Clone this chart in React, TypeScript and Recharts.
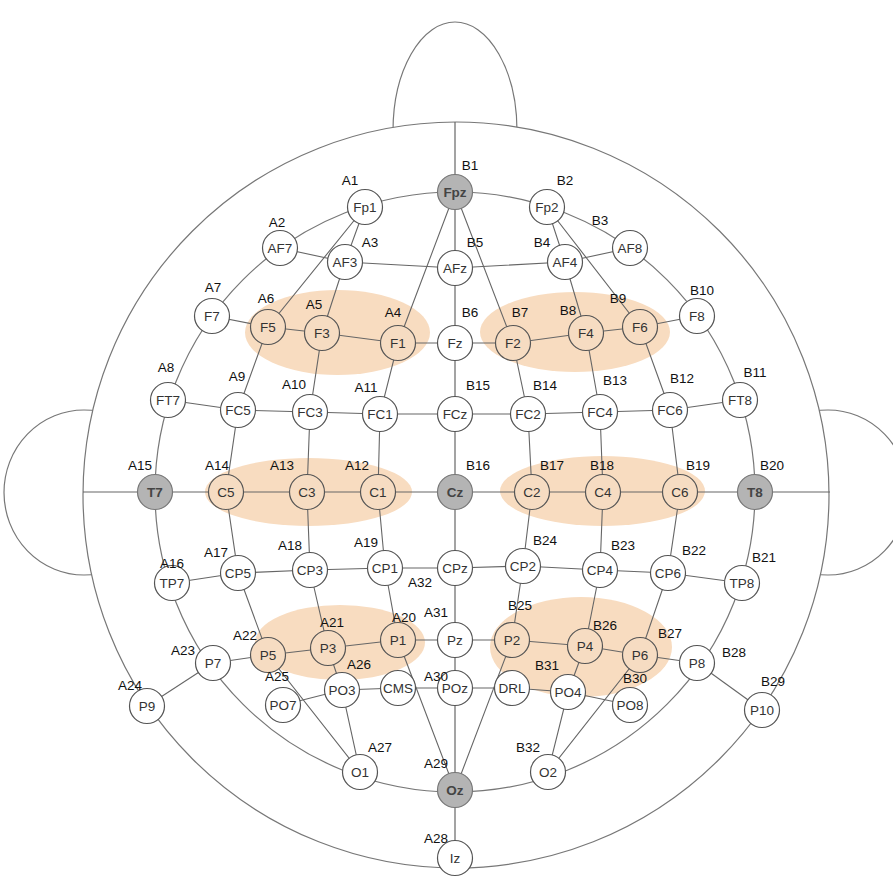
import { ScatterChart, Scatter, XAxis, YAxis, ReferenceArea } from "recharts";

type P = { n: string; x: number; y: number };
const e = (n: string, x: number, y: number): P => ({ n, x, y });

// electrode positions (px)
const electrodes: P[] = [
  e("Fp1", 365, 207), e("Fpz", 455, 192), e("Fp2", 547, 207),
  e("AF7", 280, 248), e("AF3", 345, 262), e("AFz", 455, 268), e("AF4", 565, 262), e("AF8", 630, 248),
  e("F7", 212, 316), e("F5", 268, 327), e("F3", 322, 333), e("F1", 398, 343), e("Fz", 455, 343),
  e("F2", 513, 343), e("F4", 586, 333), e("F6", 640, 327), e("F8", 697, 316),
  e("FT7", 168, 400), e("FC5", 238, 410), e("FC3", 310, 412), e("FC1", 380, 414), e("FCz", 455, 414),
  e("FC2", 528, 414), e("FC4", 600, 412), e("FC6", 670, 410), e("FT8", 740, 400),
  e("T7", 155, 492), e("C5", 226, 492), e("C3", 307, 492), e("C1", 378, 492), e("Cz", 455, 492),
  e("C2", 532, 492), e("C4", 603, 492), e("C6", 680, 492), e("T8", 755, 492),
  e("TP7", 172, 583), e("CP5", 238, 573), e("CP3", 310, 570), e("CP1", 385, 568), e("CPz", 455, 568),
  e("CP2", 523, 566), e("CP4", 600, 570), e("CP6", 668, 573), e("TP8", 742, 583),
  e("P9", 147, 706), e("P7", 213, 663), e("P5", 268, 655), e("P3", 328, 648), e("P1", 398, 640),
  e("Pz", 455, 640), e("P2", 512, 640), e("P4", 585, 646), e("P6", 640, 655), e("P8", 697, 663), e("P10", 762, 710),
  e("PO7", 283, 705), e("PO3", 342, 690), e("CMS", 398, 688), e("POz", 455, 688), e("DRL", 512, 688),
  e("PO4", 568, 692), e("PO8", 630, 705),
  e("O1", 360, 772), e("Oz", 455, 790), e("O2", 548, 772),
  e("Iz", 455, 858),
];

const reference = ["Fpz", "Cz", "Oz", "T7", "T8"];
const highlighted = ["F5", "F3", "F1", "F2", "F4", "F6", "C5", "C3", "C1", "C2", "C4", "C6", "P5", "P3", "P1", "P2", "P4", "P6"];

// channel labels
const channelLabels: P[] = [
  e("A1", 350, 180), e("A2", 277, 222), e("A3", 370, 242), e("A4", 393, 312), e("A5", 314, 304),
  e("A6", 266, 298), e("A7", 213, 287), e("A8", 166, 367), e("A9", 237, 376), e("A10", 294, 384),
  e("A11", 366, 387), e("A12", 357, 465), e("A13", 282, 465), e("A14", 217, 465), e("A15", 140, 465),
  e("A16", 172, 563), e("A17", 216, 552), e("A18", 290, 545), e("A19", 366, 542), e("A20", 404, 617),
  e("A21", 332, 622), e("A22", 245, 635), e("A23", 183, 650), e("A24", 130, 685), e("A25", 277, 676),
  e("A26", 359, 664), e("A27", 380, 747), e("A28", 436, 838), e("A29", 436, 763), e("A30", 436, 676),
  e("A31", 436, 612), e("A32", 420, 582),
  e("B1", 470, 165), e("B2", 565, 180), e("B3", 600, 220), e("B4", 542, 242), e("B5", 475, 242),
  e("B6", 470, 312), e("B7", 520, 312), e("B8", 568, 310), e("B9", 618, 298), e("B10", 702, 290),
  e("B11", 755, 372), e("B12", 682, 378), e("B13", 615, 380), e("B14", 545, 385), e("B15", 478, 385),
  e("B16", 478, 465), e("B17", 552, 465), e("B18", 602, 465), e("B19", 698, 465), e("B20", 772, 465),
  e("B21", 764, 557), e("B22", 694, 550), e("B23", 623, 545), e("B24", 545, 540), e("B25", 520, 605),
  e("B26", 605, 625), e("B27", 670, 633), e("B28", 734, 652), e("B29", 773, 681), e("B30", 635, 678),
  e("B31", 547, 665), e("B32", 528, 747),
];

// polylines connecting electrodes
const paths: string[][] = [
  ["AF7", "AF3", "AFz", "AF4", "AF8"],
  ["F7", "F5", "F3", "F1", "Fz", "F2", "F4", "F6", "F8"],
  ["FT7", "FC5", "FC3", "FC1", "FCz", "FC2", "FC4", "FC6", "FT8"],
  ["TP7", "CP5", "CP3", "CP1", "CPz", "CP2", "CP4", "CP6", "TP8"],
  ["P7", "P5", "P3", "P1", "Pz", "P2", "P4", "P6", "P8"],
  ["PO7", "PO3", "CMS", "POz", "DRL", "PO4", "PO8"],
  ["Fpz", "F1", "FC1", "C1", "CP1", "P1", "Oz"],
  ["Fpz", "F2", "FC2", "C2", "CP2", "P2", "Oz"],
  ["Fp1", "AF3", "F3", "FC3", "C3", "CP3", "P3", "PO3", "O1"],
  ["Fp2", "AF4", "F4", "FC4", "C4", "CP4", "P4", "PO4", "O2"],
  ["Fp1", "F5", "FC5", "C5", "CP5", "P5", "O1"],
  ["Fp2", "F6", "FC6", "C6", "CP6", "P6", "O2"],
  ["P9", "P7"],
  ["P8", "P10"],
];
const axisLines: P[][] = [
  [e("", 455, 122), e("", 455, 868)],
  [e("", 83, 492), e("", 830, 492)],
];

// [x1, x2, y1, y2]
const outlines: number[][] = [
  [393, 517, 22, 240],
  [4, 164, 410, 575],
  [748, 908, 410, 575],
  [83, 829, 122, 868],
  [155, 755, 192, 792],
];
const groups: number[][] = [
  [245, 430, 290, 375], [480, 670, 292, 372],
  [205, 412, 458, 526], [500, 705, 456, 526],
  [255, 425, 605, 680], [490, 672, 597, 697],
];

const byName = (n: string) => electrodes.find((p) => p.n === n)!;
const STROKE = "#666";
const FONT = "Liberation Sans, Arial, sans-serif";

const Ellipse = ({ fill, stroke }: { fill: string; stroke: string }) => (props: any) => (
  <ellipse
    cx={props.x + props.width / 2}
    cy={props.y + props.height / 2}
    rx={Math.abs(props.width) / 2}
    ry={Math.abs(props.height) / 2}
    fill={fill}
    stroke={stroke}
    strokeWidth={1.2}
  />
);

const Electrode = (props: any) => {
  const { cx, cy, payload } = props;
  const isRef = reference.includes(payload.n);
  const isHi = highlighted.includes(payload.n);
  return (
    <g>
      <circle cx={cx} cy={cy} r={17.5} fill={isRef ? "#b4b4b4" : isHi ? "#f6dcc2" : "#fff"} stroke={isRef ? "#777" : "#555"} strokeWidth={1.2} />
      <text x={cx} y={cy + 5} textAnchor="middle" fontSize={13.5} fontFamily={FONT} fontWeight={isRef ? 700 : 400} fill={isRef ? "#444" : "#333"}>
        {payload.n}
      </text>
    </g>
  );
};

const ChannelLabel = (props: any) => (
  <text x={props.cx} y={props.cy + 5} textAnchor="middle" fontSize={13.5} fontFamily={FONT} fill="#111">
    {props.payload.n}
  </text>
);

const Nothing = () => <g />;

export default function App() {
  return (
    <div style={{ position: "absolute", left: 0, top: 0, width: 893, height: 884, background: "#fff" }}>
      <ScatterChart width={893} height={884} margin={{ top: 0, right: 0, bottom: 0, left: 0 }}>
        <XAxis type="number" dataKey="x" domain={[0, 893]} hide />
        <YAxis type="number" dataKey="y" domain={[0, 884]} reversed hide />
        {outlines.map((o, i) => (
          <ReferenceArea key={"o" + i} x1={o[0]} x2={o[1]} y1={o[2]} y2={o[3]} ifOverflow="visible"
            shape={Ellipse({ fill: i < 4 ? "#fff" : "none", stroke: "#777" })} />
        ))}
        {groups.map((g, i) => (
          <ReferenceArea key={"g" + i} x1={g[0]} x2={g[1]} y1={g[2]} y2={g[3]} ifOverflow="visible"
            shape={Ellipse({ fill: "#f8dcc0", stroke: "none" })} />
        ))}
        {axisLines.map((l, i) => (
          <Scatter key={"a" + i} data={l} line={{ stroke: STROKE, strokeWidth: 1.2 }} shape={Nothing} isAnimationActive={false} />
        ))}
        {paths.map((p, i) => (
          <Scatter key={"p" + i} data={p.map(byName)} line={{ stroke: STROKE, strokeWidth: 1.1 }} shape={Nothing} isAnimationActive={false} />
        ))}
        <Scatter data={electrodes} shape={Electrode} isAnimationActive={false} />
        <Scatter data={channelLabels} shape={ChannelLabel} isAnimationActive={false} />
      </ScatterChart>
    </div>
  );
}
